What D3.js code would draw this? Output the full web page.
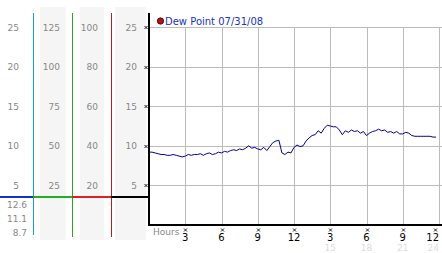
<!DOCTYPE html>
<html>
<head>
<meta charset="utf-8">
<script src="https://cdn.jsdelivr.net/npm/d3@7"></script>
<style>
  body { margin: 0; background: #fff; }
  svg { display: block; font-family: "DejaVu Sans", Verdana, sans-serif; }
</style>
</head>
<body>
<div id="chart"></div>
<script>
/* ---------------- data ---------------- */

// dew point readings, every 15 minutes from midnight
const dewPoint = [
  9.2, 9.2, 9.1, 9.0, 8.9, 8.9, 8.8, 8.8, 8.9, 8.8, 8.7, 8.6,
  8.7, 8.9, 8.8, 8.9, 8.9, 9.0, 8.8, 9.0, 9.1, 8.9, 9.0, 9.2,
  9.1, 9.3, 9.2, 9.4, 9.5, 9.4, 9.6, 9.5, 9.7, 10.0, 9.7, 9.8,
  9.6, 9.5, 9.8, 9.4, 9.9, 10.4, 10.6, 10.7, 9.1, 8.9, 9.2, 9.1,
  9.8, 10.1, 9.9, 10.0, 10.6, 11.0, 11.3, 11.4, 11.9, 11.6, 12.2, 12.6,
  12.5, 12.4, 12.4, 12.0, 11.4, 11.9, 11.7, 12.0, 11.8, 11.9, 11.6, 11.8,
  11.3, 11.6, 11.8, 11.9, 12.1, 11.9, 12.0, 11.7, 11.8, 11.6, 11.8, 11.5,
  11.5, 11.7, 11.6, 11.3, 11.2, 11.2, 11.2, 11.2, 11.2, 11.2, 11.1, 11.1
];
const stepHours = 0.25;

const yTicks = [5, 10, 15, 20, 25];
const col2Ticks = [25, 50, 75, 100, 125];
const col3Ticks = [20, 40, 60, 80, 100];
const xTicks = [3, 6, 9, 12, 15, 18, 21, 24];
const xTickLabels = ["3", "6", "9", "12", "3", "6", "9", "12"];
const xFaintTicks = [15, 18, 21, 24];
const statLabels = ["12.6", "11.1", "8.7"];
const legendLabel = "Dew Point 07/31/08";

/* ---------------- setup ---------------- */

const W = 442, H = 253;
const svg = d3.select("#chart").append("svg")
  .attr("width", W).attr("height", H);

const x = d3.scaleLinear().domain([0, 24]).range([149, 439]);
const y = d3.scaleLinear().domain([0, 25]).range([225, 27]);
const y2 = d3.scaleLinear().domain([0, 125]).range(y.range());
const y3 = d3.scaleLinear().domain([0, 100]).range(y.range());

// last label sits flush against the right edge
const anchorFor = d => d === 24 ? "end" : "middle";
const labelX = d => d === 24 ? W - 3 : x(d);

/* ---------------- left panel ---------------- */

// light column backgrounds
[[40, 66], [80, 104], [115, 146]].forEach(([a, b]) => {
  svg.append("rect").attr("x", a).attr("y", 7)
    .attr("width", b - a).attr("height", 233).attr("fill", "#f5f5f5");
});

function colLabels(ticks, scale, xr) {
  svg.append("g").selectAll("text").data(ticks).enter().append("text")
    .attr("x", xr).attr("y", d => scale(d) + 3.5)
    .attr("text-anchor", "end")
    .attr("font-size", 9).attr("fill", "#888")
    .text(d => d);
}
colLabels(yTicks, y, 19);
colLabels(col2Ticks, y2, 60);
colLabels(col3Ticks, y3, 98);
colLabels(yTicks, y, 137);

// vertical coloured separators
[[33.5, "#1a9ac9", 235], [72.5, "#2aa52a", 237], [111.5, "#b02020", 237]].forEach(([xx, c, y2e]) => {
  svg.append("line").attr("x1", xx).attr("x2", xx).attr("y1", 13).attr("y2", y2e)
    .attr("stroke", c).attr("stroke-width", 1);
});

// baseline segments
[[0, 33, "#1133cc"], [33, 72, "#22b022"], [72, 111, "#dd2020"], [111, 149, "#000"]].forEach(([a, b, c]) => {
  svg.append("line").attr("x1", a).attr("x2", b).attr("y1", 197).attr("y2", 197)
    .attr("stroke", c).attr("stroke-width", 2);
});

svg.append("g").selectAll("text").data(statLabels).enter().append("text")
  .attr("x", 27).attr("y", (d, i) => 208 + i * 14)
  .attr("text-anchor", "end").attr("font-size", 9).attr("fill", "#888")
  .text(d => d);

/* ---------------- grid ---------------- */

svg.append("g").selectAll("line").data(yTicks).enter().append("line")
  .attr("x1", 149).attr("x2", W)
  .attr("y1", d => Math.round(y(d)) + 0.5).attr("y2", d => Math.round(y(d)) + 0.5)
  .attr("stroke", "#bbb");

svg.append("g").selectAll("line").data(xTicks).enter().append("line")
  .attr("x1", d => Math.round(x(d)) + 0.5).attr("x2", d => Math.round(x(d)) + 0.5)
  .attr("y1", 27).attr("y2", 225)
  .attr("stroke", "#bbb");

/* ---------------- axes ---------------- */

svg.append("line").attr("x1", 149).attr("x2", 149).attr("y1", 13).attr("y2", 226)
  .attr("stroke", "#000").attr("stroke-width", 2);
svg.append("line").attr("x1", 148).attr("x2", W).attr("y1", 225).attr("y2", 225)
  .attr("stroke", "#000").attr("stroke-width", 2);

// tiny "x" tick marks
function tickMark(cx, cy) {
  svg.append("path")
    .attr("d", `M${cx - 1.5},${cy - 1.5}L${cx + 1.5},${cy + 1.5}M${cx + 1.5},${cy - 1.5}L${cx - 1.5},${cy + 1.5}`)
    .attr("stroke", "#222").attr("stroke-width", 1);
}
yTicks.forEach(d => tickMark(146, Math.round(y(d)) + 0.5));
xTicks.forEach(d => tickMark(d === 24 ? 435.5 : Math.round(x(d)) + 0.5, 230));

svg.append("g").selectAll("text").data(xTicks).enter().append("text")
  .attr("x", labelX).attr("y", 241)
  .attr("text-anchor", anchorFor).attr("font-size", 10).attr("fill", "#000")
  .text((d, i) => xTickLabels[i]);

svg.append("g").selectAll("text").data(xFaintTicks).enter().append("text")
  .attr("x", labelX).attr("y", 251)
  .attr("text-anchor", anchorFor).attr("font-size", 9).attr("fill", "#dcdcdc")
  .text(d => d);

svg.append("text").attr("x", 153).attr("y", 235)
  .attr("font-size", 9).attr("fill", "#888").text("Hours");

/* ---------------- series ---------------- */

const line = d3.line()
  .x((d, i) => x(i * stepHours))
  .y(d => y(d));

svg.append("path").datum(dewPoint)
  .attr("d", line)
  .attr("fill", "none")
  .attr("stroke", "#000099")
  .attr("stroke-width", 1);

/* ---------------- legend ---------------- */

svg.append("circle").attr("cx", 160.5).attr("cy", 21).attr("r", 3.2)
  .attr("fill", "#a01818").attr("stroke", "#500").attr("stroke-width", 0.8);
svg.append("text").attr("x", 165).attr("y", 25)
  .attr("font-size", 10).attr("fill", "#2233bb").text(legendLabel);
</script>
</body>
</html>
